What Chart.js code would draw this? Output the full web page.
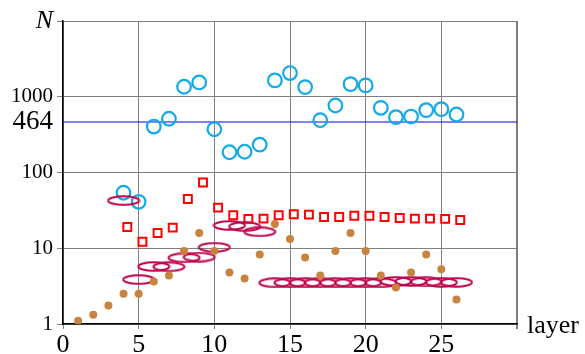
<!DOCTYPE html>
<html>
<head>
<meta charset="utf-8">
<script src="https://cdn.jsdelivr.net/npm/chart.js@4"></script>
<style>
  html, body { margin: 0; padding: 0; background: #fff; }
  #wrap { width: 585px; height: 354px; }
</style>
</head>
<body>
<div id="wrap"><canvas id="first" width="585" height="354"></canvas></div>
<script>
// values
const circleLayers = [4,5,6,7,8,9,10,11,12,13,14,15,16,17,18,19,20,21,22,23,24,25,26];
const circleN = [54,41,404,512,1356,1545,372,185,188,233,1644,2055,1340,490,767,1469,1412,714,537,548,665,685,583];

const squareLayers = [4,5,6,7,8,9,10,11,12,13,14,15,16,17,18,19,20,21,22,23,24,25,26];
const squareN = [19.1,12.2,15.9,18.7,44.8,73.8,34.4,27.2,24.4,24.6,27.2,28.1,27.8,25.9,25.9,26.9,26.9,25.9,25.1,24.6,24.6,24.4,23.6];

const dotLayers = [1,2,3,4,5,6,7,8,9,10,11,12,13,14,15,16,17,18,19,20,21,22,23,24,25,26];
const dotN = [1.1,1.32,1.75,2.5,2.5,3.63,4.36,9.2,15.9,9.2,4.78,3.98,8.28,20.9,13.2,7.55,4.36,9.2,15.9,9.2,4.36,3.03,4.78,8.28,5.3,2.1];

const ovalLayers = [4,5,6,7,8,9,10,11,12,13,14,15,16,17,18,19,20,21,22,23,24,25,26];
const ovalN = [42.6,3.86,5.74,5.69,7.48,7.64,10.3,20,19.3,16.5,3.5,3.5,3.5,3.5,3.5,3.5,3.5,3.5,3.65,3.65,3.6,3.55,3.55];

const refLine = 464;
const yTicks = [1,10,100,464,1000,10000];
const xMin = 0, xMax = 30;

const squareShift = 0.25;
const serif = "'Liberation Serif', 'DejaVu Serif', serif";

function pts(xs, ys, shift) {
  return xs.map((v, i) => ({x: v + (shift || 0), y: ys[i]}));
}

// wide open oval used as point style
const oval = document.createElement('canvas');
oval.width = 34; oval.height = 11;
let oc = oval.getContext('2d');
oc.strokeStyle = '#c0004c';
oc.lineWidth = 2;
oc.beginPath();
oc.ellipse(17, 5.5, 15.5, 4.2, 0, 0, Math.PI*2);
oc.stroke();

const layerLabel = {
  id: 'layerLabel',
  afterDraw(chart) {
    const c = chart.ctx, xs = chart.scales.x;
    c.save();
    c.font = '26px ' + serif;
    c.fillStyle = '#000';
    c.textBaseline = 'alphabetic';
    c.fillText('layer', xs.right + 10, xs.top + 9);
    c.restore();
  }
};

let chart = new Chart("first", {
  type: "scatter",
  data: {
    datasets: [
      { data: pts(dotLayers, dotN), order: 0, pointStyle: 'circle', pointRadius: 4,
        backgroundColor: '#c8843f', borderColor: '#c8843f', borderWidth: 0 },
      { data: pts(ovalLayers, ovalN), order: 1, pointStyle: oval },
      { data: pts(squareLayers, squareN, squareShift), order: 2, pointStyle: 'rect', pointRadius: 5.6,
        backgroundColor: 'rgba(0,0,0,0)', borderColor: '#ff0000', borderWidth: 2 },
      { data: pts(circleLayers, circleN), order: 3, pointStyle: 'circle', pointRadius: 6.8,
        backgroundColor: 'rgba(0,0,0,0)', borderColor: '#12aae8', borderWidth: 2.2 },
      { type: 'line', data: [{x: xMin, y: refLine}, {x: xMax, y: refLine}], order: 4,
        borderColor: '#0000ff', borderWidth: 1, pointRadius: 0, fill: false }
    ]
  },
  options: {
    responsive: false,
    animation: false,
    layout: { padding: { top: 21, right: 68, left: 0, bottom: 0 } },
    plugins: { legend: { display: false }, tooltip: { enabled: false } },
    scales: {
      x: {
        type: 'linear', min: xMin, max: xMax,
        afterFit: (s) => { s.height = 30; },
        ticks: {
          stepSize: 5, color: '#000', padding: 1,
          font: { family: serif, size: 26 },
          callback: (v) => v === xMax ? '' : String(v)
        },
        grid: { color: '#7f7f7f', tickLength: 5, tickColor: '#7f7f7f', lineWidth: (ctx) => ctx.tick && ctx.tick.value === xMax ? 2 : 1 },
        border: { color: '#000', width: 1.5 }
      },
      y: {
        type: 'logarithmic', min: 1, max: 10000,
        afterFit: (s) => { s.width = 63; },
        afterBuildTicks: (s) => { s.ticks = yTicks.map(v => ({value: v})); },
        ticks: {
          color: '#000', padding: 4, autoSkip: false,
          font: (ctx) => {
            const v = ctx.tick ? ctx.tick.value : 0;
            if (v === refLine) return { family: serif, size: 27 };
            if (v === 10000) return { family: serif, size: 26, style: 'italic' };
            return { family: serif, size: 21 };
          },
          callback: (v) => v === 10000 ? 'N' : String(v)
        },
        grid: {
          color: (ctx) => ctx.tick && ctx.tick.value === refLine ? 'rgba(0,0,0,0)' : '#7f7f7f',
          tickLength: 6
        },
        border: { color: '#000', width: 1.5 }
      }
    }
  },
  plugins: [layerLabel]
});
</script>
</body>
</html>
